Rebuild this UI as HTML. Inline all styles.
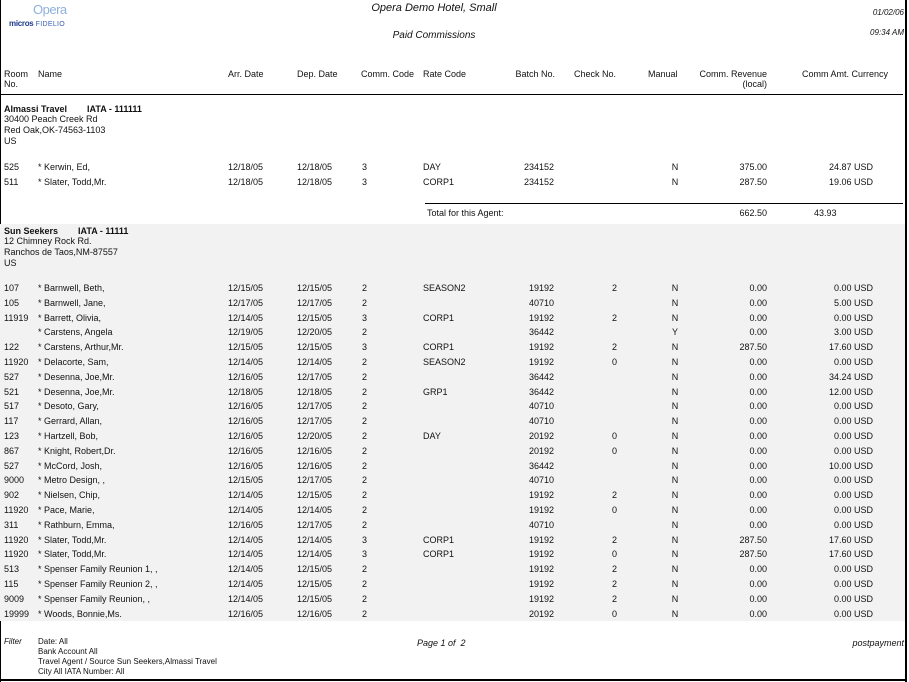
<!DOCTYPE html>
<html><head><meta charset="utf-8"><style>
html,body{margin:0;padding:0;background:#fff}
#p{position:relative;width:909px;height:682px;overflow:hidden;font-family:"Liberation Sans",Arial,sans-serif;font-size:9px;color:#111}
#p div{position:absolute;white-space:nowrap;line-height:10px}
.r{text-align:right}
.c{text-align:center}
.i{font-style:italic}
.b{font-weight:bold}
</style></head><body><div id="p">
<div style="left:0;top:0;width:1px;height:682px;background:#000"></div>
<div style="left:905px;top:0;width:2px;height:682px;background:#000"></div>
<div style="left:0;top:679px;width:907px;height:2px;background:#000"></div>
<div style="left:0;top:224px;width:905px;height:397px;background:#f2f2f2"></div>

<div style="left:33px;top:3px;font-size:13px;line-height:14px;color:#8fb0dc;letter-spacing:-0.5px">Opera</div>
<div style="left:9px;top:19px;font-size:8px;font-weight:bold;color:#1f3c8c;letter-spacing:-0.3px">micros<span style="font-weight:normal;color:#3b5fb0;letter-spacing:0.3px;font-size:7px"> FIDELIO</span></div>

<div class="i" style="left:334px;top:2px;width:200px;text-align:center;font-size:11px;line-height:12px">Opera Demo Hotel, Small</div>
<div class="i" style="left:334px;top:30px;width:200px;text-align:center;font-size:10px;line-height:12px">Paid Commissions</div>
<div class="i r" style="left:800px;top:8px;width:104px;font-size:8px">01/02/06</div>
<div class="i r" style="left:800px;top:28px;width:104px;font-size:8px">09:34 AM</div>

<div style="left:4px;top:69px">Room<br>No.</div>
<div style="left:38px;top:69px">Name</div>
<div style="left:228px;top:69px">Arr. Date</div>
<div style="left:297px;top:69px">Dep. Date</div>
<div style="left:361px;top:69px">Comm. Code</div>
<div style="left:423px;top:69px">Rate Code</div>
<div class="r" style="left:500px;top:69px;width:55px">Batch No.</div>
<div style="left:574px;top:69px">Check No.</div>
<div style="left:648px;top:69px">Manual</div>
<div class="r" style="left:680px;top:69px;width:87px">Comm. Revenue<br>(local)</div>
<div style="left:802px;top:69px">Comm Amt. Currency</div>
<div style="left:0;top:94px;width:903px;height:1px;background:#000"></div>

<div class="b" style="left:4px;top:104px">Almassi Travel&nbsp;&nbsp;&nbsp;&nbsp;&nbsp;&nbsp;&nbsp;&nbsp;IATA - 111111</div>
<div style="left:4px;top:114px">30400 Peach Creek Rd</div>
<div style="left:4px;top:125px">Red Oak,OK-74563-1103</div>
<div style="left:4px;top:136px">US</div>

<div style="left:425px;top:203px;width:478px;height:1px;background:#000"></div>
<div style="left:427px;top:208px">Total for this Agent:</div>
<div class="r" style="left:700px;top:208px;width:67px">662.50</div>
<div style="left:814px;top:208px">43.93</div>

<div class="b" style="left:4px;top:226px">Sun Seekers&nbsp;&nbsp;&nbsp;&nbsp;&nbsp;&nbsp;&nbsp;&nbsp;IATA - 11111</div>
<div style="left:4px;top:236px">12 Chimney Rock Rd.</div>
<div style="left:4px;top:247px">Ranchos de Taos,NM-87557</div>
<div style="left:4px;top:258px">US</div>

<div id="rows"></div>

<div class="i" style="left:4px;top:637px;font-size:8px">Filter</div>
<div style="left:38px;top:637px;font-size:8px;line-height:10px">Date: All<br>Bank Account All<br>Travel Agent / Source Sun Seekers,Almassi Travel<br>City All IATA Number: All</div>
<div class="i" style="left:417px;top:638px">Page 1 of &nbsp;2</div>
<div class="i r" style="left:800px;top:638px;width:104px">postpayment</div>
</div>
<script>
var rows=[
[162,"525","* Kerwin, Ed,","12/18/05","12/18/05","3","DAY","234152","","N","375.00","24.87 USD"],
[177,"511","* Slater, Todd,Mr.","12/18/05","12/18/05","3","CORP1","234152","","N","287.50","19.06 USD"],
[283,"107","* Barnwell, Beth,","12/15/05","12/15/05","2","SEASON2","19192","2","N","0.00","0.00 USD"],
[0,"105","* Barnwell, Jane,","12/17/05","12/17/05","2","","40710","","N","0.00","5.00 USD"],
[0,"11919","* Barrett, Olivia,","12/14/05","12/15/05","3","CORP1","19192","2","N","0.00","0.00 USD"],
[0,"","* Carstens, Angela","12/19/05","12/20/05","2","","36442","","Y","0.00","3.00 USD"],
[0,"122","* Carstens, Arthur,Mr.","12/15/05","12/15/05","3","CORP1","19192","2","N","287.50","17.60 USD"],
[0,"11920","* Delacorte, Sam,","12/14/05","12/14/05","2","SEASON2","19192","0","N","0.00","0.00 USD"],
[0,"527","* Desenna, Joe,Mr.","12/16/05","12/17/05","2","","36442","","N","0.00","34.24 USD"],
[0,"521","* Desenna, Joe,Mr.","12/18/05","12/18/05","2","GRP1","36442","","N","0.00","12.00 USD"],
[0,"517","* Desoto, Gary,","12/16/05","12/17/05","2","","40710","","N","0.00","0.00 USD"],
[0,"117","* Gerrard, Allan,","12/16/05","12/17/05","2","","40710","","N","0.00","0.00 USD"],
[0,"123","* Hartzell, Bob,","12/16/05","12/20/05","2","DAY","20192","0","N","0.00","0.00 USD"],
[0,"867","* Knight, Robert,Dr.","12/16/05","12/16/05","2","","20192","0","N","0.00","0.00 USD"],
[0,"527","* McCord, Josh,","12/16/05","12/16/05","2","","36442","","N","0.00","10.00 USD"],
[0,"9000","* Metro Design, ,","12/15/05","12/17/05","2","","40710","","N","0.00","0.00 USD"],
[0,"902","* Nielsen, Chip,","12/14/05","12/15/05","2","","19192","2","N","0.00","0.00 USD"],
[0,"11920","* Pace, Marie,","12/14/05","12/14/05","2","","19192","0","N","0.00","0.00 USD"],
[0,"311","* Rathburn, Emma,","12/16/05","12/17/05","2","","40710","","N","0.00","0.00 USD"],
[0,"11920","* Slater, Todd,Mr.","12/14/05","12/14/05","3","CORP1","19192","2","N","287.50","17.60 USD"],
[0,"11920","* Slater, Todd,Mr.","12/14/05","12/14/05","3","CORP1","19192","0","N","287.50","17.60 USD"],
[0,"513","* Spenser Family Reunion 1, ,","12/14/05","12/15/05","2","","19192","2","N","0.00","0.00 USD"],
[0,"115","* Spenser Family Reunion 2, ,","12/14/05","12/15/05","2","","19192","2","N","0.00","0.00 USD"],
[0,"9009","* Spenser Family Reunion, ,","12/14/05","12/15/05","2","","19192","2","N","0.00","0.00 USD"],
[0,"19999","* Woods, Bonnie,Ms.","12/16/05","12/16/05","2","","20192","0","N","0.00","0.00 USD"]];
var h="",k=0;
rows.forEach(function(r,i){
 if(r[0]){k=0;} else {k++;}
 var t=(i<2?r[0]:Math.round(283+k*14.8));
 function d(s,st){h+='<div style="top:'+t+'px;'+st+'">'+s+'</div>';}
 d(r[1],"left:4px");d(r[2],"left:38px");d(r[3],"left:228px");d(r[4],"left:297px");
 d(r[5],"left:362px");d(r[6],"left:423px");
 d(r[7],"left:490px;width:64px;text-align:right");
 d(r[8],"left:600px;width:17px;text-align:right");
 d(r[9],"left:665px;width:20px;text-align:center");
 d(r[10],"left:700px;width:67px;text-align:right");
 d(r[11],"left:790px;width:83px;text-align:right");
});
document.getElementById("rows").outerHTML=h;
</script>
</body></html>
